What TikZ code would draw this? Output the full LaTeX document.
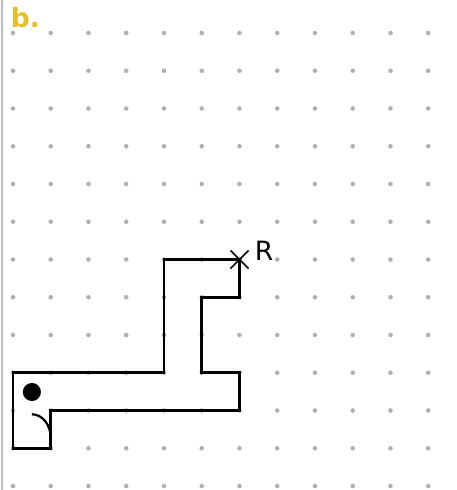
\documentclass[tikz,border=0pt]{standalone}
\usepackage{fontspec}
\setmainfont{DejaVu Sans}
\usetikzlibrary{positioning}
\definecolor{panelgold}{RGB}{230,192,40}
\definecolor{griddot}{RGB}{175,175,175}
\definecolor{edgegray}{RGB}{190,190,190}

\begin{document}
\begin{tikzpicture}[
  gdot/.style={fill=griddot, draw=none},
  wall/.style={draw=black, line width=1.9pt, line join=miter},
  tag/.style={inner sep=0pt, anchor=base west}]

\useasboundingbox (-0.344,0.874) rectangle (11.76,-12.106);

% dot grid
\foreach \c in {0,...,11}
  \foreach \r in {0,...,12}
    \fill[gdot] (\c,-\r) circle (0.06);

% left edge rule
\draw[edgegray, line width=2pt] (-0.29,0.874) -- (-0.29,-12.106);

% panel label
\node[tag, font=\bfseries\fontsize{20}{24}\selectfont, text=panelgold] (lbl) at (-0.06,0.15) {b.};

% corridor outline
\draw[wall] (0,-9) -- (4,-9) -- (4,-6) -- (6,-6) -- (6,-7) -- (5,-7)
  -- (5,-9) -- (6,-9) -- (6,-10) -- (1,-10) -- (1,-11) -- (0,-11) -- cycle;

% start marker and door
\fill (0.5,-9.51) circle (0.24);
\draw[line width=1.7pt] (0.5,-10.1) arc[start angle=90, end angle=0, x radius=0.5, y radius=0.62];

% goal cross
\coordinate (goal) at (6,-6);
\draw[line width=1.1pt] ([shift={(-0.24,-0.24)}]goal) -- ([shift={(0.24,0.24)}]goal);
\draw[line width=1.1pt] ([shift={(-0.24,0.24)}]goal) -- ([shift={(0.24,-0.24)}]goal);
\node[tag, font=\fontsize{20}{24}\selectfont] (rlab) at (6.4,-6.03) {R};
\end{tikzpicture}
\end{document}
